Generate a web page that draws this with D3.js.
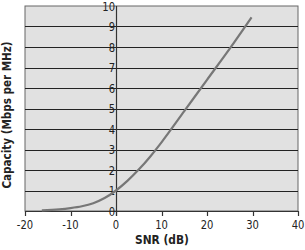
<!DOCTYPE html>
<html><head><meta charset="utf-8">
<script src="https://cdn.jsdelivr.net/npm/d3@7"></script>
<style>
body{margin:0;background:#fff;}
svg text{font-family:"DejaVu Sans",sans-serif;}
</style></head>
<body><svg id="c" width="305" height="250"></svg>
<script>
const snr = [-16.3, -12.5, -10, -7.5, -5, -2.5, 0, 2.5, 5, 7.5, 10, 15, 20, 25, 29.8];
const capacity = [0.035, 0.08, 0.14, 0.23, 0.38, 0.63, 1.0, 1.47, 2.02, 2.65, 3.35, 4.87, 6.4, 7.92, 9.45];
const xTicks = [-20, -10, 0, 10, 20, 30, 40];
const yTicks = [0, 1, 2, 3, 4, 5, 6, 7, 8, 9, 10];
const xTitle = "SNR (dB)";
const yTitle = "Capacity (Mbps per MHz)";

const svg = d3.select("#c");
const L = 25, R = 298, T = 6, B = 211;
const x = d3.scaleLinear().domain([-20, 40]).range([L, R]);
const y = d3.scaleLinear().domain([0, 10]).range([B, T]);

svg.append("rect").attr("x", L).attr("y", T).attr("width", R - L).attr("height", B - T)
  .attr("fill", "#e1e1e1").attr("stroke", "#666").attr("stroke-width", 1);

svg.append("g").selectAll("line").data(yTicks.filter(d => d > 0 && d < 10)).join("line")
  .attr("x1", L).attr("x2", R).attr("y1", d => Math.round(y(d)) + 0.5).attr("y2", d => Math.round(y(d)) + 0.5)
  .attr("stroke", "#222").attr("stroke-width", 1.2);

svg.append("line").attr("x1", Math.round(x(0)) + 0.5).attr("x2", Math.round(x(0)) + 0.5)
  .attr("y1", T).attr("y2", B + 5).attr("stroke", "#333").attr("stroke-width", 1.2);
svg.append("line").attr("x1", L).attr("x2", R).attr("y1", B + 0.5).attr("y2", B + 0.5)
  .attr("stroke", "#333").attr("stroke-width", 1.2);

svg.append("g").selectAll("line").data(xTicks).join("line")
  .attr("x1", d => Math.round(x(d)) + 0.5).attr("x2", d => Math.round(x(d)) + 0.5)
  .attr("y1", B).attr("y2", B + 5).attr("stroke", "#333").attr("stroke-width", 1.2);
svg.append("g").selectAll("text").data(xTicks).join("text")
  .attr("transform", d => `translate(${x(d)},229) scale(0.8,1)`).attr("text-anchor", "middle")
  .attr("font-size", 12.5).attr("fill", "#222").text(d => d);

svg.append("g").selectAll("text").data(yTicks).join("text")
  .attr("transform", d => `translate(${x(0) - 1},${y(d) + 4.5}) scale(0.8,1)`).attr("text-anchor", "end")
  .attr("font-size", 12.5).attr("fill", "#222").text(d => d);

const line = d3.line().x((d, i) => x(snr[i])).y(d => y(d)).curve(d3.curveMonotoneX);
svg.append("path").attr("d", line(capacity)).attr("fill", "none")
  .attr("stroke", "#777").attr("stroke-width", 2.2);

svg.append("text").attr("transform", "translate(162,244) scale(0.82,1)").attr("text-anchor", "middle")
  .attr("font-size", 13).attr("font-weight", "bold").attr("fill", "#222").text(xTitle);
svg.append("text").attr("transform", "translate(11,115) rotate(-90) scale(0.8,1)").attr("text-anchor", "middle")
  .attr("font-size", 13).attr("font-weight", "bold").attr("fill", "#222").text(yTitle);
</script></body></html>
